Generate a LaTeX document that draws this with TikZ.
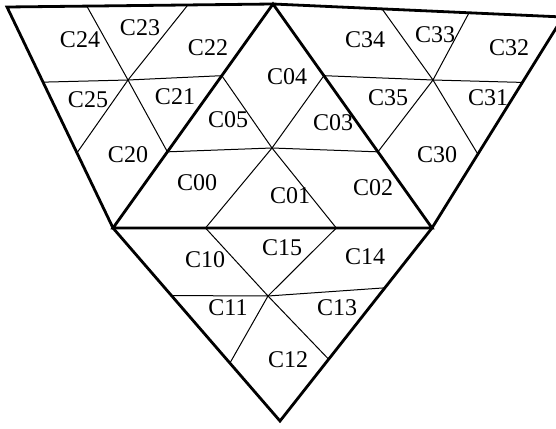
\documentclass[tikz,border=0pt]{standalone}
\usepackage{fontspec}
\setmainfont{Liberation Serif}
\usetikzlibrary{calc}
\begin{document}
\begin{tikzpicture}[x=0.5pt, y=-0.5pt, font=\fontsize{12}{14}\selectfont,
  edge/.style={black, line width=1.4pt, line join=miter},
  cut/.style={black, line width=0.5pt}]
  \useasboundingbox (0,0) rectangle (556,428);
  \clip (0,0) rectangle (556,428);
  \coordinate (tl) at (7,7);
  \coordinate (t) at (273,4);
  \coordinate (tr) at (563,17);
  \coordinate (l) at (113,228);
  \coordinate (r) at (432,228);
  \coordinate (b) at (280,421);
  \coordinate (m0) at (272,148);
  \coordinate (m1) at (268,296);
  \coordinate (m2) at (128,80);
  \coordinate (m3) at (433,80);
  \coordinate (a1) at ($(tl)!0.30!(t)$);
  \coordinate (a2) at ($(tl)!0.68!(t)$);
  \coordinate (a3) at ($(t)!0.376!(tr)$);
  \coordinate (a4) at ($(t)!0.676!(tr)$);
  \coordinate (s1) at ($(tl)!0.34!(l)$);
  \coordinate (s2) at ($(tl)!0.66!(l)$);
  \coordinate (s3) at ($(tr)!0.31!(r)$);
  \coordinate (s4) at ($(tr)!0.65!(r)$);
  \coordinate (u1) at ($(t)!0.32!(l)$);
  \coordinate (u2) at ($(t)!0.66!(l)$);
  \coordinate (u3) at ($(t)!0.32!(r)$);
  \coordinate (u4) at ($(t)!0.66!(r)$);
  \coordinate (w1) at ($(l)!0.29!(r)$);
  \coordinate (w2) at ($(l)!0.70!(r)$);
  \coordinate (v1) at ($(l)!0.35!(b)$);
  \coordinate (v2) at ($(l)!0.70!(b)$);
  \coordinate (v3) at ($(r)!0.31!(b)$);
  \coordinate (v4) at ($(r)!0.68!(b)$);
  \foreach \p in {u1,u2,u3,u4,w1,w2} \draw[cut] (m0) -- (\p);
  \foreach \p in {w1,w2,v1,v2,v3,v4} \draw[cut] (m1) -- (\p);
  \foreach \p in {a1,a2,s1,s2,u1,u2} \draw[cut] (m2) -- (\p);
  \foreach \p in {a3,a4,s3,s4,u3,u4} \draw[cut] (m3) -- (\p);
  \draw[edge] (tl) -- (t) -- (tr) -- (r) -- (b) -- (l) -- cycle;
  \draw[edge] (t) -- (l) -- (r) -- cycle;
  \node (c00) at (197,183) {C00};
  \node (c01) at (290,196) {C01};
  \node (c02) at (373,188) {C02};
  \node (c03) at (333,123) {C03};
  \node (c04) at (287,77) {C04};
  \node (c05) at (228,120) {C05};
  \node (c10) at (205,260) {C10};
  \node (c11) at (228,308) {C11};
  \node (c12) at (288,360) {C12};
  \node (c13) at (337,308) {C13};
  \node (c14) at (365,257) {C14};
  \node (c15) at (282,248) {C15};
  \node (c20) at (128,155) {C20};
  \node (c21) at (175,97) {C21};
  \node (c22) at (208,48) {C22};
  \node (c23) at (140,28) {C23};
  \node (c24) at (80,40) {C24};
  \node (c25) at (88,100) {C25};
  \node (c30) at (437,155) {C30};
  \node (c31) at (488,98) {C31};
  \node (c32) at (509,48) {C32};
  \node (c33) at (435,35) {C33};
  \node (c34) at (365,40) {C34};
  \node (c35) at (388,98) {C35};
\end{tikzpicture}
\end{document}
